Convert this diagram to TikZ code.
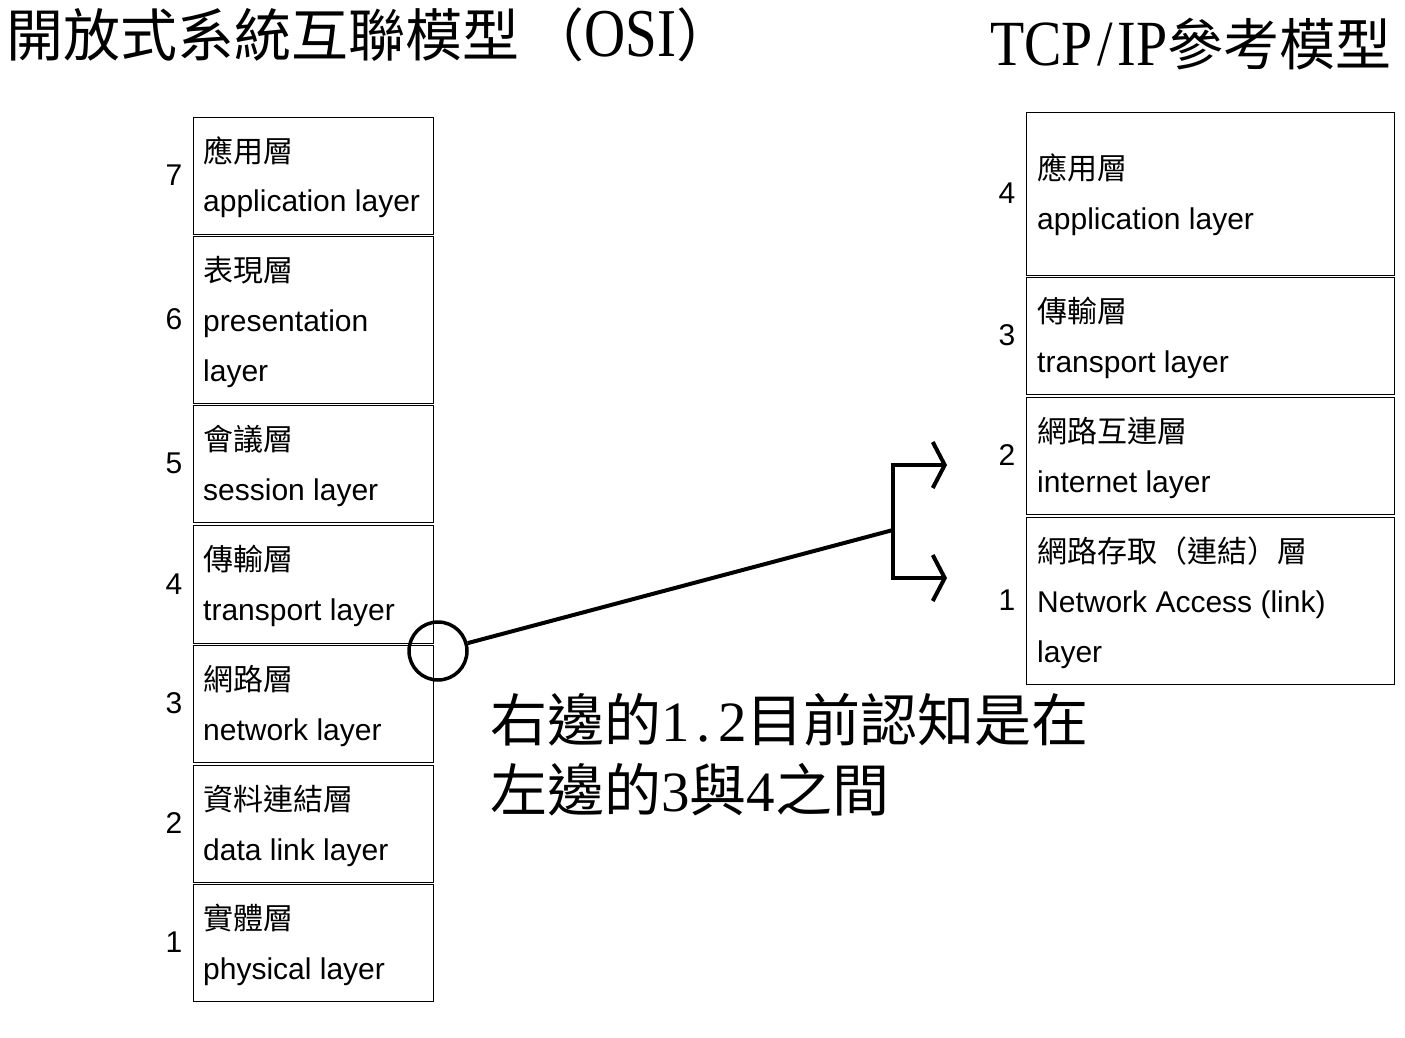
\documentclass[tikz,border=0pt]{standalone}
\usepackage{fontspec}
\setmainfont{Liberation Sans}
\newfontfamily\cjk{Noto Sans CJK TC}
\newfontfamily\serifl{Liberation Serif}
\usetikzlibrary{arrows.meta}
\newcommand\hw[1]{\makebox[0.5em]{\serifl #1}}
\begin{document}
\begin{tikzpicture}[x=1pt,y=-1pt,
  layerbox/.style={draw, line width=1.2pt, minimum width=240pt, minimum height=#1, anchor=north west, inner sep=0pt},
  tcpbox/.style={draw, line width=1.2pt, minimum width=368pt, minimum height=#1, anchor=north west, inner sep=0pt},
  en/.style={anchor=base west, inner sep=0pt, font=\fontsize{30}{36}\selectfont},
  zh/.style={anchor=base west, inner sep=0pt, font=\fontsize{30}{36}\selectfont\cjk},
  num/.style={inner sep=0pt, font=\fontsize{30}{36}\selectfont},
  title/.style={anchor=base west, inner sep=0pt, font=\fontsize{57}{60}\selectfont},
  conn/.style={line width=4pt},
  barb/.style={conn, {Straight Barb[length=12pt,width=46pt]}-{Straight Barb[length=12pt,width=46pt]}}
]
\useasboundingbox (0,0) rectangle (1405,1038);

% titles
\node[title] (osititle) at (6,57) {\cjk 開放式系統互聯模型\hspace{0.15em}（{\serifl\scalebox{1}[1.2]{OSI}}）};
\node[title, font=\fontsize{56}{60}\selectfont] (tcptitle) at (990,66) {{\serifl\scalebox{1}[1.15]{TCP\hspace{0.08em}/\hspace{0.08em}IP}}\cjk 參考模型};

% OSI layers
\node[layerbox=117pt] (o7) at (193,117) {};
\node[zh] (o7z) at (203,162) {應用層};
\node[en] (o7e) at (203,211) {application layer};
\node[num] (o7n) at (174,175.5) {7};

\node[layerbox=167pt] (o6) at (193,236) {};
\node[zh] (o6z) at (203,281) {表現層};
\node[en] (o6e) at (203,331) {presentation};
\node[en] (o6f) at (203,381) {layer};
\node[num] (o6n) at (174,319.5) {6};

\node[layerbox=117pt] (o5) at (193,405) {};
\node[zh] (o5z) at (203,450) {會議層};
\node[en] (o5e) at (203,500) {session layer};
\node[num] (o5n) at (174,463.5) {5};

\node[layerbox=118pt] (o4) at (193,525) {};
\node[zh] (o4z) at (203,570) {傳輸層};
\node[en] (o4e) at (203,620) {transport layer};
\node[num] (o4n) at (174,584) {4};

\node[layerbox=117pt] (o3) at (193,645) {};
\node[zh] (o3z) at (203,690) {網路層};
\node[en] (o3e) at (203,740) {network layer};
\node[num] (o3n) at (174,703.5) {3};

\node[layerbox=117pt] (o2) at (193,765) {};
\node[zh] (o2z) at (203,810) {資料連結層};
\node[en] (o2e) at (203,860) {data link layer};
\node[num] (o2n) at (174,823.5) {2};

\node[layerbox=117pt] (o1) at (193,884) {};
\node[zh] (o1z) at (203,929) {實體層};
\node[en] (o1e) at (203,979) {physical layer};
\node[num] (o1n) at (174,942.5) {1};

% TCP/IP layers
\node[tcpbox=163pt] (t4) at (1026,112) {};
\node[zh] (t4z) at (1037,179) {應用層};
\node[en] (t4e) at (1037,229) {application layer};
\node[num] (t4n) at (1007,193.5) {4};

\node[tcpbox=117pt] (t3) at (1026,277) {};
\node[zh] (t3z) at (1037,322) {傳輸層};
\node[en] (t3e) at (1037,372) {transport layer};
\node[num] (t3n) at (1007,335.5) {3};

\node[tcpbox=117pt] (t2) at (1026,397) {};
\node[zh] (t2z) at (1037,442) {網路互連層};
\node[en] (t2e) at (1037,492) {internet layer};
\node[num] (t2n) at (1007,455.5) {2};

\node[tcpbox=167pt] (t1) at (1026,517) {};
\node[zh] (t1z) at (1037,562) {網路存取（連結）層};
\node[en] (t1e) at (1037,612) {Network Access (link)};
\node[en] (t1f) at (1037,662) {layer};
\node[num] (t1n) at (1007,600.5) {1};

% marker and connectors
\node[circle, draw, line width=3.5pt, minimum size=58pt, inner sep=0pt] (mark) at (438,651) {};
\coordinate (junc) at (893,530);
\coordinate (ja) at (893,465);
\coordinate (jb) at (893,578);
\coordinate (tipa) at (947,465);
\coordinate (tipb) at (947,578);
\draw[conn] (mark) -- (junc);
\draw[barb] (tipa) -- (ja) -- (jb) -- (tipb);

% note
\node[title] (note1) at (490,741) {\cjk 右邊的\hw{1}\hw{.}\hw{2}目前認知是在};
\node[title] (note2) at (490,811) {\cjk 左邊的\hw{3}與\hw{4}之間};
\end{tikzpicture}
\end{document}
